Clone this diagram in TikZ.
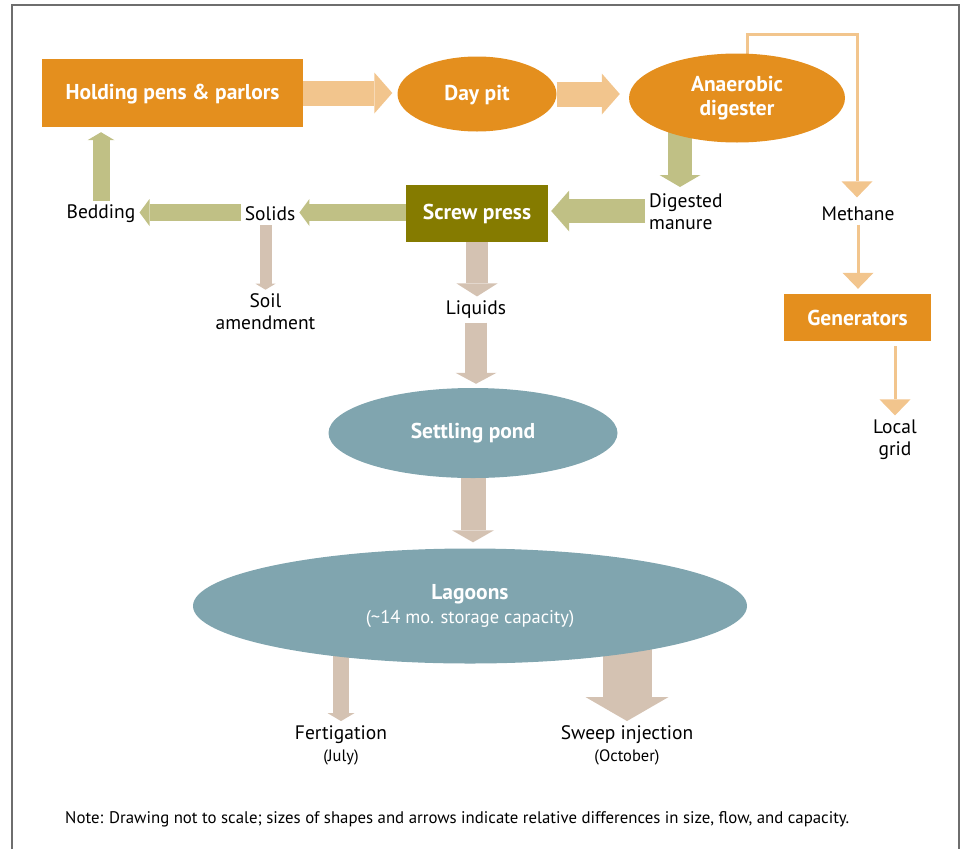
\documentclass[tikz,border=0pt]{standalone}
\usepackage{fontspec}
\setmainfont{PT Sans}
\usetikzlibrary{shapes.geometric,arrows.meta,backgrounds}

\definecolor{penc}{RGB}{228,143,30}
\definecolor{gasc}{RGB}{242,197,141}
\definecolor{pressc}{RGB}{133,123,0}
\definecolor{solidc}{RGB}{192,192,133}
\definecolor{liquidc}{RGB}{212,194,178}
\definecolor{pondc}{RGB}{128,165,175}
\definecolor{framec}{RGB}{110,110,110}

\begin{document}
\begin{tikzpicture}[x=1pt, y=-1pt,
    every node/.style={font=\fontsize{19.5}{22}\selectfont, align=center, inner sep=4pt},
    unit/.style={text=white, font=\bfseries\fontsize{21.5}{24}\selectfont, inner sep=0pt},
    fat/.style n args={4}{draw=#1, line width=#2, -{Triangle[width=#3, length=#4, line width=0pt]}},
    gasline/.style={draw=gasc, line width=3pt, -{Triangle[width=31pt, length=16pt, line width=0pt]}}
  ]
        \useasboundingbox (0,0) rectangle (963,849);

        % Frame
        \draw[framec, line width=2pt] (12,849) -- (12,5) -- (959,5) -- (959,849);

        % Units
        \node[unit, fill=penc, minimum width=261pt, minimum height=68pt, text depth=2pt] (pens) at (172.5,93) {Holding pens \& parlors};
        \node[unit, ellipse, fill=penc, minimum width=159pt, minimum height=75pt, text depth=2pt] (daypit) at (477,94) {Day pit};
        \node[unit, ellipse, fill=penc, minimum width=216pt, minimum height=89pt] (digester) at (737,98) {Anaerobic\\digester};
        \node[unit, fill=pressc, minimum width=142pt, minimum height=57pt] (press) at (477,213.5) {Screw press};
        \node[unit, fill=penc, minimum width=147pt, minimum height=47pt] (gen) at (857.5,317.5) {Generators};
        \node[unit, ellipse, fill=pondc, minimum width=289pt, minimum height=90pt] (pond) at (473,433) {Settling pond};
        \node[unit, ellipse, fill=pondc, minimum width=554pt, minimum height=115pt] (lagoons) at (470,606)
            {Lagoons\\{\mdseries\fontsize{18.5}{22}\selectfont (\textasciitilde 14 mo. storage capacity)}};

        % Labels
        \node (bedding) at (101,214) {Bedding};
        \node (solids) at (270,214) {Solids};
        \node[anchor=west, align=left] (digested) at (645,212) {Digested\\manure};
        \node (methane) at (858,213.5) {Methane};
        \node (soil) at (265.5,312) {Soil\\amendment};
        \node (liquids) at (476,309.5) {Liquids};
        \node (grid) at (895,439.5) {Local\\grid};
        \node (fert) at (341,745) {Fertigation\\{\fontsize{16.5}{18}\selectfont (July)}};
        \node (sweep) at (627,745) {Sweep injection\\{\fontsize{16.5}{18}\selectfont (October)}};
        \node[anchor=west, font=\fontsize{16.8}{19}\selectfont] (note) at (61,819)
            {Note: Drawing not to scale; sizes of shapes and arrows indicate relative differences in size, flow, and capacity.};

        \begin{pgfonlayer}{background}
        % Manure flow
        \draw[fat={gasc}{25pt}{41pt}{18pt}, shorten >=5pt] (pens.east) -- (pens.east -| daypit.west);
        \draw[fat={gasc}{25pt}{41pt}{18pt}, shorten >=9pt] (daypit.east) -- (daypit.east -| digester.west);
        \draw[fat={solidc}{24pt}{41pt}{12pt}] ([xshift=-57pt]digester.center) -- ++(0,89);
        \draw[fat={solidc}{24pt}{41pt}{18pt}, shorten >=3pt] ([yshift=1pt]digested.west) -- ([yshift=1pt]digested.west -| press.east);

        % Solids
        \draw[fat={solidc}{17pt}{27pt}{10pt}] ([yshift=1pt]press.west) -- ([yshift=1pt]press.west -| solids.east);
        \draw[fat={solidc}{17pt}{27pt}{10pt}] ([yshift=1.5pt]solids.west) -- ([yshift=1.5pt]bedding.east);
        \draw[fat={solidc}{17pt}{27pt}{8pt}, shorten >=5pt] (bedding.north) -- (bedding.north |- pens.south);
        \draw[fat={liquidc}{12pt}{20pt}{6pt}] (soil.north |- solids.south) -- (soil.north);

        % Liquids
        \draw[fat={liquidc}{22pt}{41pt}{13pt}] (press.south) -- (press.south |- liquids.north);
        \draw[fat={liquidc}{22pt}{41pt}{11pt}, shorten >=4pt] (liquids.south) -- (liquids.south |- pond.north);
        \draw[fat={liquidc}{25pt}{42pt}{12pt}, shorten >=6pt] (pond.south) -- (pond.south |- lagoons.north);
        \draw[fat={liquidc}{16pt}{27pt}{8pt}] (fert.north |- lagoons.center) -- (fert.north);
        \draw[fat={liquidc}{49pt}{83pt}{24pt}] (sweep.north |- lagoons.center) -- (sweep.north);

        % Methane
        \coordinate (gasbend) at (857,34);
        \draw[gasline, shorten >=5pt] ([xshift=10pt]digester.center) |- (gasbend) -- (gasbend |- methane.north);
        \draw[gasline, shorten >=5pt] (methane.south) -- (methane.south |- gen.north);
        \draw[gasline, shorten <=5pt] (gen.south -| grid.north) -- (grid.north);
        \end{pgfonlayer}
\end{tikzpicture}
\end{document}
